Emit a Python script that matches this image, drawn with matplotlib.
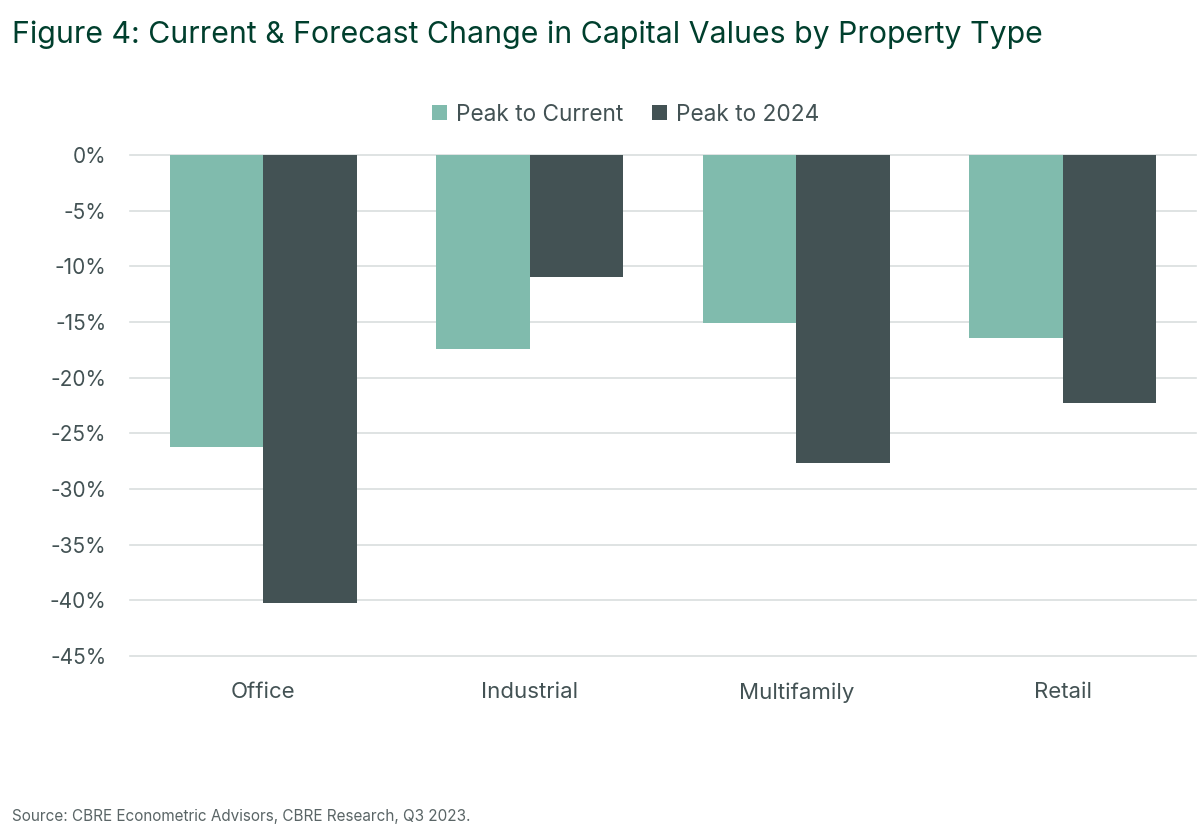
import numpy as np
import matplotlib.pyplot as plt

# data (percent change from peak)
categories = ["Office", "Industrial", "Multifamily", "Retail"]
peak_to_current = [-26.2, -17.4, -15.1, -16.4]
peak_to_2024 = [-40.2, -11.0, -27.7, -22.3]
yticks = list(range(0, -50, -5))

plt.rcParams['font.family'] = ['Inter', 'DejaVu Sans']

LIGHT = "#80bbad"
DARK = "#435254"
TEXT = "#435254"
TITLE = "#003f2d"

fig = plt.figure(figsize=(12, 8.31), dpi=100)
ax = fig.add_axes([0.1083, 0.2106, 0.8884, 0.6029])

x = np.arange(len(categories))
w = 0.35
ax.bar(x - w / 2, peak_to_current, width=w, color=LIGHT, label="Peak to Current", zorder=3)
ax.bar(x + w / 2, peak_to_2024, width=w, color=DARK, label="Peak to 2024", zorder=3)

ax.set_xlim(-0.5, len(categories) - 0.5)
ax.set_ylim(-45, 0)
ax.set_yticks(yticks)
ax.set_yticklabels([f"{t}%" for t in yticks])
ax.set_xticks(x)
ax.set_xticklabels(categories)

ax.grid(axis='y', color="#d9dede", linewidth=1.2, zorder=0)
for gl in ax.get_ygridlines():
    gl.set_clip_on(False)
for s in ax.spines.values():
    s.set_visible(False)
ax.tick_params(axis='both', length=0, colors=TEXT, labelsize=15)
ax.tick_params(axis='x', labelsize=16, pad=19)
ax.tick_params(axis='y', pad=17)

fig.text(0.01, 0.958, "Figure 4: Current & Forecast Change in Capital Values by Property Type",
         fontsize=21.8, color=TITLE, va='center', ha='left')

ax.legend(loc='lower center', bbox_to_anchor=(0.465, 1.018), ncol=2, frameon=False,
          fontsize=16.3, labelcolor=TEXT, handlelength=0.65, handleheight=0.65,
          handletextpad=0.4, columnspacing=1.3)

fig.text(0.01, 0.008, "Source: CBRE Econometric Advisors, CBRE Research, Q3 2023.",
         fontsize=11, color="#5a6566", ha='left', va='bottom')

fig.savefig("out.png", dpi=100, facecolor="white")
